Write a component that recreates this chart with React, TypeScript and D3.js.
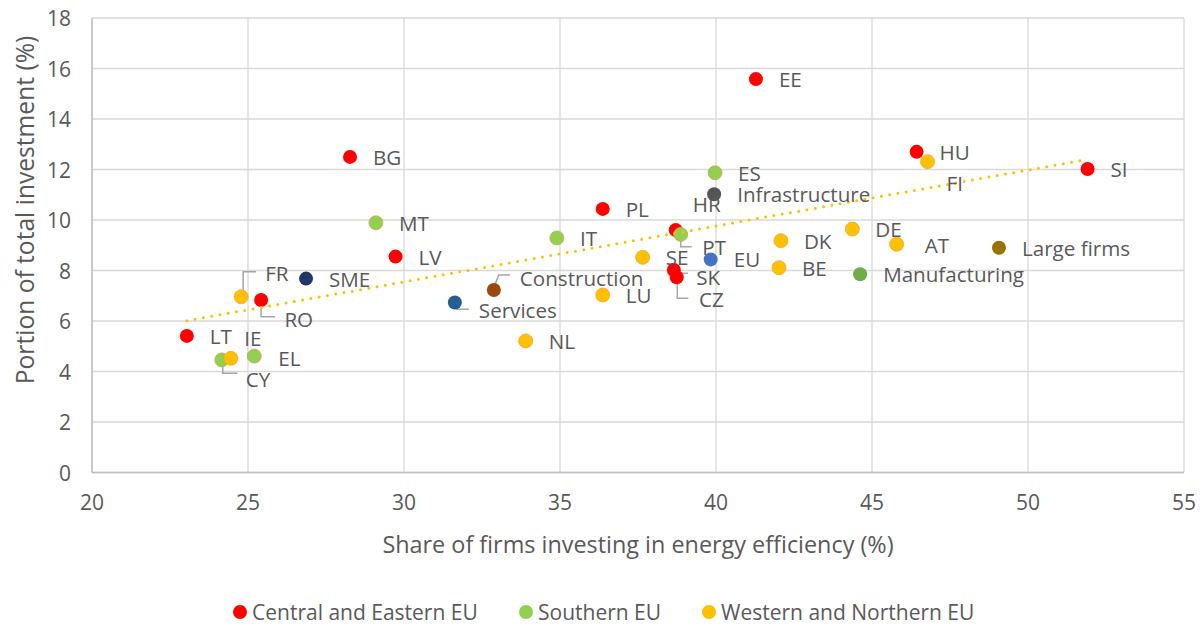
import React from 'react';
import * as d3 from 'd3';

type Pt = { name: string; x: number; y: number };

const centralEastern: Pt[] = [
  { name: 'LT', x: 23.04, y: 5.41 },
  { name: 'RO', x: 25.42, y: 6.83 },
  { name: 'BG', x: 28.27, y: 12.5 },
  { name: 'LV', x: 29.73, y: 8.55 },
  { name: 'PL', x: 36.37, y: 10.44 },
  { name: 'HR', x: 38.71, y: 9.6 },
  { name: 'SK', x: 38.65, y: 8.02 },
  { name: 'CZ', x: 38.74, y: 7.73 },
  { name: 'EE', x: 41.28, y: 15.58 },
  { name: 'HU', x: 46.43, y: 12.7 },
  { name: 'SI', x: 51.91, y: 12.02 },
];

const southern: Pt[] = [
  { name: 'CY', x: 24.16, y: 4.46 },
  { name: 'EL', x: 25.2, y: 4.61 },
  { name: 'MT', x: 29.1, y: 9.89 },
  { name: 'IT', x: 34.9, y: 9.29 },
  { name: 'PT', x: 38.87, y: 9.43 },
  { name: 'ES', x: 39.97, y: 11.87 },
];

const westernNorthern: Pt[] = [
  { name: 'FR', x: 24.78, y: 6.96 },
  { name: 'IE', x: 24.45, y: 4.52 },
  { name: 'NL', x: 33.9, y: 5.21 },
  { name: 'LU', x: 36.37, y: 7.03 },
  { name: 'SE', x: 37.65, y: 8.52 },
  { name: 'DK', x: 42.08, y: 9.18 },
  { name: 'BE', x: 42.02, y: 8.11 },
  { name: 'DE', x: 44.37, y: 9.64 },
  { name: 'AT', x: 45.79, y: 9.04 },
  { name: 'FI', x: 46.78, y: 12.31 },
];

const aggregates: Pt[] = [
  { name: 'SME', x: 26.86, y: 7.68 },
  { name: 'Services', x: 31.63, y: 6.73 },
  { name: 'Construction', x: 32.88, y: 7.23 },
  { name: 'EU', x: 39.83, y: 8.44 },
  { name: 'Infrastructure', x: 39.94, y: 11.02 },
  { name: 'Manufacturing', x: 44.62, y: 7.85 },
  { name: 'Large firms', x: 49.07, y: 8.9 },
];

const trendline = [
  { x: 23.04, y: 6.01 },
  { x: 51.91, y: 12.4 },
];

const xTicks = [20, 25, 30, 35, 40, 45, 50, 55];
const yTicks = [0, 2, 4, 6, 8, 10, 12, 14, 16, 18];
const legendLabels = ['Central and Eastern EU', 'Southern EU', 'Western and Northern EU'];

const xTitle = 'Share of firms investing in energy efficiency (%)';
const yTitle = 'Portion of total investment (%)';

// styles
const seriesColors = ['#FF0000', '#92D050', '#FFC000'];
const seriesStroke = ['none', '#C9A85A', '#F0A830'];
const aggregateColors: Record<string, string> = {
  SME: '#203864',
  Services: '#255E91',
  Construction: '#9E480E',
  EU: '#4472C4',
  Infrastructure: '#555555',
  Manufacturing: '#70AD47',
  'Large firms': '#997300',
};

const labelOffsets: Record<string, [number, number]> = {
  HR: [17, -26],
  FI: [19, 21],
  AT: [28, 1],
  Services: [24, 7.3],
  Construction: [26, -12.3],
  SK: [22.4, 6.7],
  CZ: [22.3, 22],
  PT: [21.6, 12.4],
  FR: [24, -24],
  RO: [23.3, 19],
  IE: [13.3, -20],
  CY: [24, 19],
  EL: [24, 2],
};

const leaders: Record<string, [number, number][]> = {
  FR: [[2, -6], [2, -25], [15, -25]],
  RO: [[0, 2], [0, 16.7], [14, 16.7]],
  CY: [[1, 1], [1, 13.3], [15.6, 13.3]],
  Construction: [[0, -3], [5, -15], [16, -15]],
  Services: [[0, 1], [2, 6.6], [14, 6.6]],
  PT: [[0, 1], [0, 12.4], [11, 12.4]],
  SK: [[0, 3.3], [14, 3.3]],
  CZ: [[0.6, 0], [0.6, 21], [11.6, 21]],
};

const FONT = "'Open Sans', sans-serif";
const TEXT = '#595959';

export default function App() {
  const x = d3.scaleLinear().domain([20, 55]).range([92, 1184]);
  const y = d3.scaleLinear().domain([0, 18]).range([472.5, 18]);
  const line = d3
    .line<{ x: number; y: number }>()
    .x((d) => x(d.x))
    .y((d) => y(d.y));
  const R = 7;

  const renderLabel = (p: Pt) => {
    const [dx, dy] = labelOffsets[p.name] ?? [23, 0];
    return (
      <text
        key={'l' + p.name}
        x={x(p.x) + dx}
        y={y(p.y) + dy}
        dominantBaseline="central"
        fontSize={20.6}
        fill={TEXT}
        fontFamily={FONT}
      >
        {p.name}
      </text>
    );
  };

  const allPts = [...centralEastern, ...southern, ...westernNorthern, ...aggregates];

  const legendX = [240, 526, 709];

  return (
    <svg
      width={1204}
      height={626}
      style={{ position: 'absolute', left: 0, top: 0, background: '#fff' }}
    >
      {/* grid */}
      {yTicks.map((t) => (
        <line key={'gy' + t} x1={x(20)} x2={x(55)} y1={y(t)} y2={y(t)} stroke="#D9D9D9" strokeWidth={1.3} />
      ))}
      {xTicks.map((t) => (
        <line key={'gx' + t} x1={x(t)} x2={x(t)} y1={y(0)} y2={y(18)} stroke="#D9D9D9" strokeWidth={1.3} />
      ))}
      <line x1={x(20)} x2={x(55)} y1={y(0)} y2={y(0)} stroke="#BFBFBF" strokeWidth={1.5} />
      <line x1={x(20)} x2={x(20)} y1={y(0)} y2={y(18)} stroke="#BFBFBF" strokeWidth={1.5} />

      {/* tick labels */}
      {yTicks.map((t) => (
        <text key={'ty' + t} x={71} y={y(t)} textAnchor="end" dominantBaseline="central" fontSize={21} fill={TEXT} fontFamily={FONT}>
          {t}
        </text>
      ))}
      {xTicks.map((t) => (
        <text key={'tx' + t} x={x(t)} y={502} textAnchor="middle" dominantBaseline="central" fontSize={21} fill={TEXT} fontFamily={FONT}>
          {t}
        </text>
      ))}

      {/* axis titles */}
      <text x={638} y={544} textAnchor="middle" dominantBaseline="central" fontSize={23.4} fill={TEXT} fontFamily={FONT}>
        {xTitle}
      </text>
      <text
        transform={`translate(24,210) rotate(-90)`}
        textAnchor="middle"
        dominantBaseline="central"
        fontSize={24.6}
        fill={TEXT}
        fontFamily={FONT}
      >
        {yTitle}
      </text>

      {/* leader lines */}
      {allPts
        .filter((p) => leaders[p.name])
        .map((p) => {
          const pts = leaders[p.name].map(([dx, dy]) => [x(p.x) + dx, y(p.y) + dy] as [number, number]);
          return <path key={'ld' + p.name} d={d3.line()(pts) ?? ''} fill="none" stroke="#A6A6A6" strokeWidth={1.5} />;
        })}

      {/* markers */}
      {[centralEastern, southern, westernNorthern].map((s, i) =>
        s.map((p) => (
          <circle
            key={'m' + p.name}
            cx={x(p.x)}
            cy={y(p.y)}
            r={R}
            fill={seriesColors[i]}
            stroke={seriesStroke[i]}
            strokeWidth={0.8}
          />
        ))
      )}
      {aggregates.map((p) => (
        <circle key={'m' + p.name} cx={x(p.x)} cy={y(p.y)} r={R} fill={aggregateColors[p.name]} />
      ))}

      {/* trendline */}
      <path
        d={line(trendline) ?? ''}
        fill="none"
        stroke="#FFC000"
        strokeWidth={3}
        strokeLinecap="round"
        strokeDasharray="0 8.4"
      />

      {/* labels */}
      {allPts.map(renderLabel)}

      {/* legend */}
      {legendLabels.map((l, i) => (
        <g key={'lg' + i}>
          <circle cx={legendX[i]} cy={612} r={7} fill={seriesColors[i]} />
          <text x={legendX[i] + 12} y={612} dominantBaseline="central" fontSize={21} fill={TEXT} fontFamily={FONT}>
            {l}
          </text>
        </g>
      ))}
    </svg>
  );
}
